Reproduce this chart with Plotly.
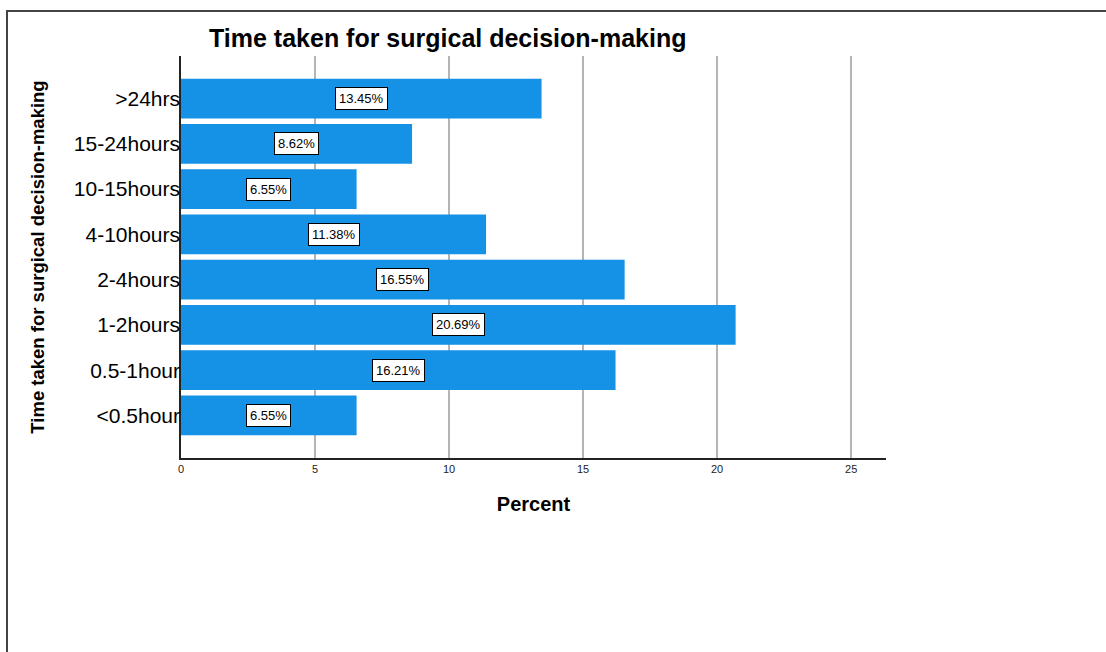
import plotly.graph_objects as go

# Time to surgical decision, share of cases (%)
categories = [">24hrs", "15-24hours", "10-15hours", "4-10hours",
              "2-4hours", "1-2hours", "0.5-1hour", "<0.5hour"]
percents = [13.45, 8.62, 6.55, 11.38, 16.55, 20.69, 16.21, 6.55]
x_ticks = [0, 5, 10, 15, 20, 25]

FONT = "Liberation Sans, Arial, sans-serif"
W, H = 1106, 652
L, R, T, B = 181, 220, 56, 194
PW, PH = W - L - R, H - T - B


def px_x(px):
    return (px - L) / PW


def px_y(py):
    return (H - B - py) / PH


fig = go.Figure()
fig.add_trace(go.Bar(
    x=percents,
    y=categories,
    orientation="h",
    marker=dict(color="#1591e6", line=dict(width=0)),
    width=0.88,
    hoverinfo="x+y",
))

# value labels in boxes at the middle of each bar
for cat, val in zip(categories, percents):
    fig.add_annotation(
        x=val / 2, y=cat, xref="x", yref="y",
        text=f"{val:.2f}%", showarrow=False,
        font=dict(family=FONT, size=13, color="black"),
        bgcolor="white", bordercolor="black", borderwidth=1, borderpad=3,
    )

# title
fig.add_annotation(
    x=px_x(447), y=px_y(38), xref="paper", yref="paper",
    text="<b>Time taken for surgical decision-making</b>", showarrow=False,
    font=dict(family=FONT, size=25, color="black"),
    xanchor="center", yanchor="middle",
)

# outer frame (left and top edges)
fig.add_shape(
    type="path", xref="paper", yref="paper",
    path=f"M {px_x(7)},{px_y(652)} L {px_x(7)},{px_y(11)} L {px_x(1106)},{px_y(11)}",
    line=dict(color="#444444", width=2),
)

fig.update_xaxes(
    range=[0, 26.3],
    tickvals=x_ticks,
    ticktext=[str(v) for v in x_ticks],
    showgrid=True, gridcolor="#b4b4b4", gridwidth=1.5,
    showline=True, linecolor="#222222", linewidth=1.5,
    ticks="", zeroline=False,
    tickfont=dict(family=FONT, size=11, color="#222222"),
    title=dict(text="<b>Percent</b>", font=dict(family=FONT, size=20, color="black"),
               standoff=23),
)
fig.update_yaxes(
    categoryorder="array", categoryarray=categories[::-1],
    range=[-0.94, 7.94],
    showgrid=False,
    showline=True, linecolor="#222222", linewidth=1.5,
    ticks="",
    tickfont=dict(family=FONT, size=21, color="black"),
    title=dict(text="<b>Time taken for surgical decision-making</b>",
               font=dict(family=FONT, size=18.5, color="black"), standoff=24),
)
try:
    fig.update_yaxes(ticklabelstandoff=-5)
except ValueError:
    pass

fig.update_layout(
    width=W, height=H,
    margin=dict(l=L, r=R, t=T, b=B, autoexpand=False),
    plot_bgcolor="white", paper_bgcolor="white",
    showlegend=False,
    bargap=0.12,
)

fig.write_html("out.html")
